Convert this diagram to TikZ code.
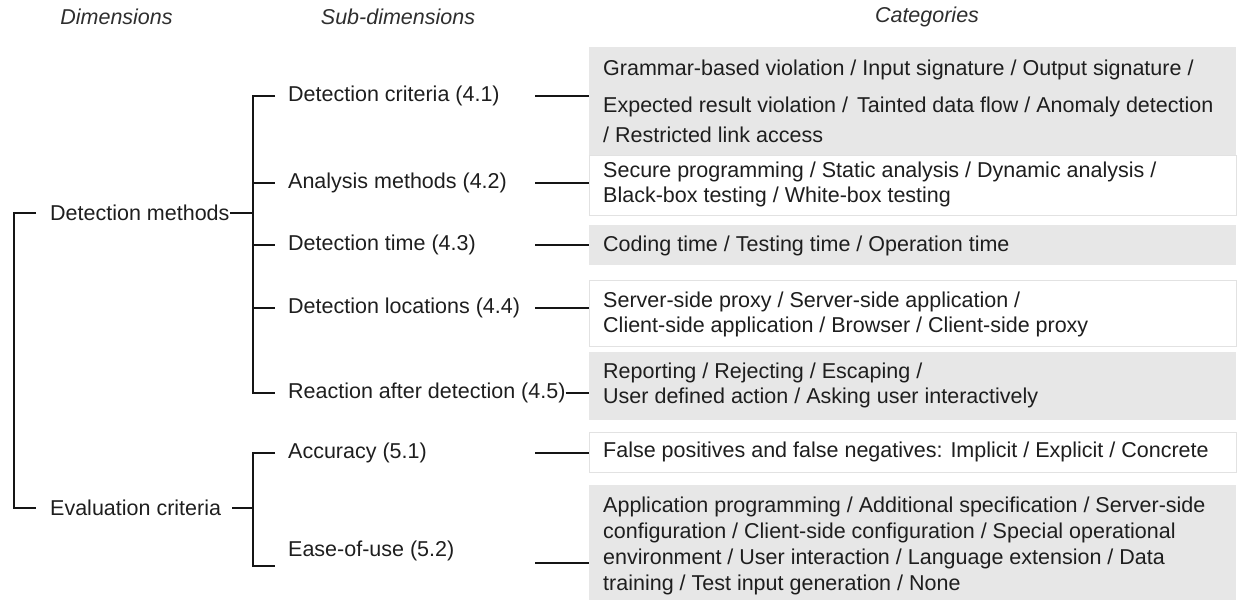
\documentclass[tikz,border=0pt]{standalone}
\usepackage{fontspec}
\setmainfont{Liberation Sans}
\definecolor{boxg}{HTML}{E7E7E7}
\definecolor{boxw}{HTML}{E2E2E2}
\definecolor{txtc}{HTML}{1E1E1E}
\definecolor{hdrc}{HTML}{2E2E2E}
\definecolor{linec}{HTML}{151515}
\begin{document}
\begin{tikzpicture}[x=1pt,y=-1pt,
  txt/.style={font=\fontsize{21.5}{26}\selectfont, text=txtc, inner sep=0pt},
  hdr/.style={font=\fontsize{21.5}{26}\selectfont\itshape, text=hdrc, inner sep=0pt},
  gbox/.style={fill=boxg, draw=none, inner sep=0pt, anchor=north west, minimum width=647pt},
  wbox/.style={fill=white, draw=boxw, line width=0.9pt, inner sep=0pt, anchor=north west, minimum width=647pt},
  ln/.style={line width=1.1pt, draw=linec},
  cat/.style={txt, anchor=west}]
\useasboundingbox (0,0) rectangle (1237,600);
% headers
\node[hdr] (h1) at (116.5,17) {Dimensions};
\node[hdr] (h2) at (398,17) {Sub-dimensions};
\node[hdr] (h3) at (927,17) {Categories};
% category boxes
\node[gbox, minimum height=108pt] (c1) at (589,47) {};
\node[wbox, minimum height=60pt] (c2) at (589,155) {};
\node[gbox, minimum height=40pt] (c3) at (589,225) {};
\node[wbox, minimum height=66pt] (c4) at (589,280) {};
\node[gbox, minimum height=68pt] (c5) at (589,352) {};
\node[wbox, minimum height=40pt] (c6) at (589,432) {};
\node[gbox, minimum height=115pt] (c7) at (589,485) {};
% category texts
\node[cat] (t1a) at (603,70) {Grammar-based violation / Input signature / Output signature /};
\node[cat] (t1b) at (603,107) {Expected result violation /\hspace{3pt} Tainted data flow / Anomaly detection};
\node[cat] (t1c) at (603,135) {/ Restricted link access};
\node[cat] (t2a) at (603,172) {Secure programming / Static analysis / Dynamic analysis /};
\node[cat] (t2b) at (603,197) {Black-box testing / White-box testing};
\node[cat] (t3a) at (603,246) {Coding time / Testing time / Operation time};
\node[cat] (t4a) at (603,302) {Server-side proxy / Server-side application /};
\node[cat] (t4b) at (603,327) {Client-side application / Browser / Client-side proxy};
\node[cat] (t5a) at (603,373) {Reporting / Rejecting / Escaping /};
\node[cat] (t5b) at (603,398) {User defined action / Asking user interactively};
\node[cat] (t6a) at (603,452) {False positives and false negatives: Implicit / Explicit / Concrete};
\node[cat] (t7a) at (603,507) {Application programming / Additional specification / Server-side};
\node[cat] (t7b) at (603,533) {configuration / Client-side configuration / Special operational};
\node[cat] (t7c) at (603,559) {environment / User interaction / Language extension / Data};
\node[cat] (t7d) at (603,585) {training / Test input generation / None};
% dimensions
\node[txt, anchor=west] (dm) at (50,213) {Detection methods};
\node[txt, anchor=west] (ec) at (50,508) {Evaluation criteria};
% sub-dimensions
\node[txt, anchor=west] (s1) at (288,96) {Detection criteria (4.1)};
\node[txt, anchor=west] (s2) at (288,183) {Analysis methods (4.2)};
\node[txt, anchor=west] (s3) at (288,245) {Detection time (4.3)};
\node[txt, anchor=west] (s4) at (288,308) {Detection locations (4.4)};
\node[txt, anchor=west] (s5) at (288,393) {Reaction after detection (4.5)};
\node[txt, anchor=west] (s6) at (288,453) {Accuracy (5.1)};
\node[txt, anchor=west] (s7) at (288,551) {Ease-of-use (5.2)};
% outer bracket
\draw[ln] ([xshift=-14pt]dm.west) -| ([xshift=-36pt]ec.west) -- ([xshift=-14pt]ec.west);
% dimension joins
\coordinate (dj) at ([xshift=-35pt]s1.west |- dm.west);
\coordinate (ej) at ([xshift=-35pt]s1.west |- ec.west);
\draw[ln] (dm.east) -- (dj);
\draw[ln] ([xshift=11pt]ec.east) -- (ej);
% detection bracket
\draw[ln] ([xshift=-13pt]s1.west) -| ([xshift=-35pt]s5.west) -- ([xshift=-13pt]s5.west);
\draw[ln] ([xshift=-35pt]s2.west) -- ([xshift=-13pt]s2.west);
\draw[ln] ([xshift=-35pt]s3.west) -- ([xshift=-13pt]s3.west);
\draw[ln] ([xshift=-35pt]s4.west) -- ([xshift=-13pt]s4.west);
% evaluation bracket
\coordinate (e7t) at ([xshift=-13pt,yshift=-15pt]s7.west);
\draw[ln] ([xshift=-13pt]s6.west) -| ([xshift=-35pt,yshift=-15pt]s7.west) -- (e7t);
% connectors to categories
\draw[ln] ([xshift=247pt]s1.west) -- (s1.west -| c1.west);
\draw[ln] ([xshift=247pt]s2.west) -- (s2.west -| c2.west);
\draw[ln] ([xshift=247pt]s3.west) -- (s3.west -| c3.west);
\draw[ln] ([xshift=247pt]s4.west) -- (s4.west -| c4.west);
\draw[ln] (s5.east) -- (s5.east -| c5.west);
\draw[ln] ([xshift=247pt]s6.west) -- (s6.west -| c6.west);
\coordinate (e7) at ([xshift=247pt,yshift=-12pt]s7.west);
\draw[ln] (e7) -- (e7 -| c7.west);
\end{tikzpicture}
\end{document}
